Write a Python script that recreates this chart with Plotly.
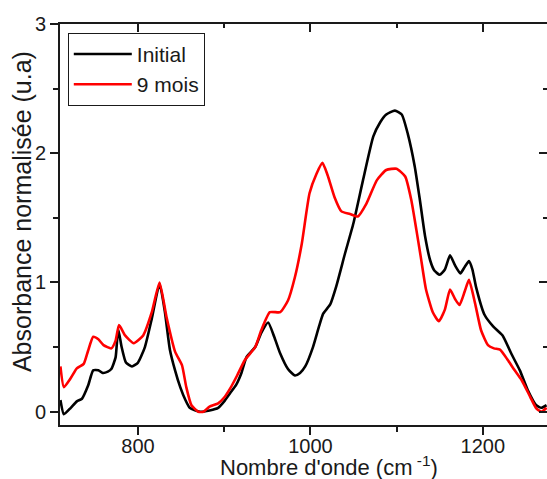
import plotly.graph_objects as go

# wavenumber (cm-1) / normalised absorbance
initial_x = [710, 714, 722, 729, 735, 742, 748, 754, 759, 765, 769, 774, 777, 781, 786, 793,
             800, 808, 816, 825, 831, 837, 843, 849, 855, 860, 866, 872, 883, 893, 900,
             907, 914, 920, 926, 936, 943, 951, 958, 965, 974, 982, 988, 994, 1003,
             1010, 1015, 1023, 1030, 1040, 1050, 1061, 1073, 1081, 1088, 1098, 1106,
             1113, 1121, 1127, 1133, 1139, 1144, 1150, 1156, 1162, 1168, 1174, 1179,
             1184, 1188, 1192, 1202, 1212, 1223, 1233, 1243, 1252, 1262, 1268, 1274]
initial_y = [0.09, -0.02, 0.03, 0.08, 0.10, 0.20, 0.32, 0.32, 0.30, 0.31, 0.33, 0.42, 0.64,
             0.50, 0.38, 0.35, 0.38, 0.50, 0.72, 0.99, 0.78, 0.48, 0.32, 0.19, 0.09,
             0.03, 0.01, 0.00, 0.01, 0.03, 0.08, 0.145, 0.21, 0.30, 0.425, 0.50, 0.61,
             0.69, 0.58, 0.45, 0.33, 0.28, 0.30, 0.35, 0.50, 0.66, 0.76, 0.83, 0.97,
             1.22, 1.46, 1.79, 2.13, 2.24, 2.30, 2.33, 2.30, 2.15, 1.90, 1.64, 1.36,
             1.17, 1.09, 1.06, 1.10, 1.21, 1.13, 1.07, 1.12, 1.165, 1.10, 0.97, 0.75,
             0.66, 0.59, 0.45, 0.32, 0.17, 0.05, 0.03, 0.05]

mois9_x = [710, 714, 722, 729, 737, 742, 748, 754, 760, 769, 774, 778, 785, 795, 806,
           816, 825, 833, 843, 851, 856, 862, 870, 876, 883, 893, 900, 907, 915, 924,
           936, 943, 953, 965, 974, 982, 990, 999, 1007, 1014, 1020, 1028, 1036, 1046,
           1055, 1065, 1077, 1088, 1100, 1110, 1117, 1123, 1128, 1134, 1142, 1149,
           1156, 1162, 1168, 1173, 1179, 1184, 1191, 1198, 1206, 1213, 1220, 1229,
           1237, 1245, 1255, 1262, 1268, 1274]
mois9_y = [0.35, 0.19, 0.26, 0.335, 0.37, 0.47, 0.58, 0.56, 0.515, 0.49, 0.55, 0.67, 0.59,
           0.53, 0.59, 0.77, 1.00, 0.735, 0.465, 0.36, 0.19, 0.05, 0.0, 0.0, 0.04,
           0.065, 0.11, 0.18, 0.28, 0.40, 0.50, 0.63, 0.77, 0.77, 0.86, 1.04, 1.30,
           1.69, 1.84, 1.925, 1.83, 1.66, 1.55, 1.53, 1.51, 1.61, 1.79, 1.87, 1.88,
           1.82, 1.64, 1.405, 1.20, 0.95, 0.77, 0.70, 0.79, 0.945, 0.87, 0.825, 0.93,
           1.02, 0.84, 0.63, 0.515, 0.49, 0.48, 0.40, 0.32, 0.245, 0.115, 0.026,
           0.0, 0.03]

FONT = "Liberation Sans, Arial, sans-serif"
INK = "#1a1a1a"

fig = go.Figure()
fig.add_trace(go.Scatter(x=initial_x, y=initial_y, name="Initial", mode="lines",
                         line=dict(color="#000000", width=2.6, shape="spline", smoothing=0.5)))
fig.add_trace(go.Scatter(x=mois9_x, y=mois9_y, name="9 mois", mode="lines",
                         line=dict(color="#ff0000", width=2.6, shape="spline", smoothing=0.5)))
# empty trace so the top/right frame axes get drawn
fig.add_trace(go.Scatter(x=[], y=[], xaxis="x2", yaxis="y2", showlegend=False))

x_range = [709.5, 1274.5]
y_range = [-0.103, 3.0]

axis_common = dict(showgrid=False, zeroline=False, showline=True, linecolor=INK,
                   linewidth=2, tickcolor=INK, tickwidth=1.5,
                   tickfont=dict(family=FONT, size=20, color=INK))

fig.update_layout(
    width=547, height=479,
    margin=dict(l=60, r=0, t=24, b=54),
    plot_bgcolor="white", paper_bgcolor="white",
    font=dict(family=FONT, size=20, color=INK),
    xaxis=dict(range=x_range, dtick=200, tick0=800, ticks="outside", ticklen=8,
               ticklabelstandoff=-6,
               minor=dict(dtick=100, tick0=800, ticks="outside", ticklen=5,
                          tickcolor=INK, tickwidth=1.5),
               **axis_common),
    yaxis=dict(range=y_range, dtick=1, tick0=0, ticks="outside", ticklen=8,
               minor=dict(dtick=0.5, tick0=0, ticks="outside", ticklen=5,
                          tickcolor=INK, tickwidth=1.5),
               **axis_common),
    xaxis2=dict(range=x_range, overlaying="x", side="top", anchor="y2",
                dtick=200, tick0=800, ticks="inside", ticklen=8, showticklabels=False,
                minor=dict(dtick=100, tick0=800, ticks="inside", ticklen=4,
                           tickcolor=INK, tickwidth=1.5),
                **axis_common),
    yaxis2=dict(range=y_range, overlaying="y", side="right", anchor="x2",
                dtick=1, tick0=0, ticks="inside", ticklen=8, showticklabels=False,
                minor=dict(dtick=0.5, tick0=0, ticks="inside", ticklen=4,
                           tickcolor=INK, tickwidth=1.5),
                **axis_common),
    legend=dict(x=0.016, y=0.978, xanchor="left", yanchor="top",
                bgcolor="white", bordercolor=INK, borderwidth=1,
                font=dict(family=FONT, size=21, color=INK),
                itemwidth=58, tracegroupgap=0),
    showlegend=True,
)

# axis titles (placed as in the original, slightly off-centre)
fig.add_annotation(text="Nombre d'onde (cm<sup> -1</sup>)", xref="paper", yref="paper",
                   x=0.552, y=-0.102, xanchor="center", yanchor="middle", showarrow=False,
                   font=dict(family=FONT, size=22, color=INK))
fig.add_annotation(text="Absorbance normalisée (u.a)", xref="paper", yref="paper",
                   x=-0.078, y=0.531, xanchor="center", yanchor="middle", showarrow=False,
                   textangle=-90, font=dict(family=FONT, size=25, color=INK))

fig.write_html("out.html", config={"displayModeBar": False},
               post_script="document.body.style.margin='0';")
